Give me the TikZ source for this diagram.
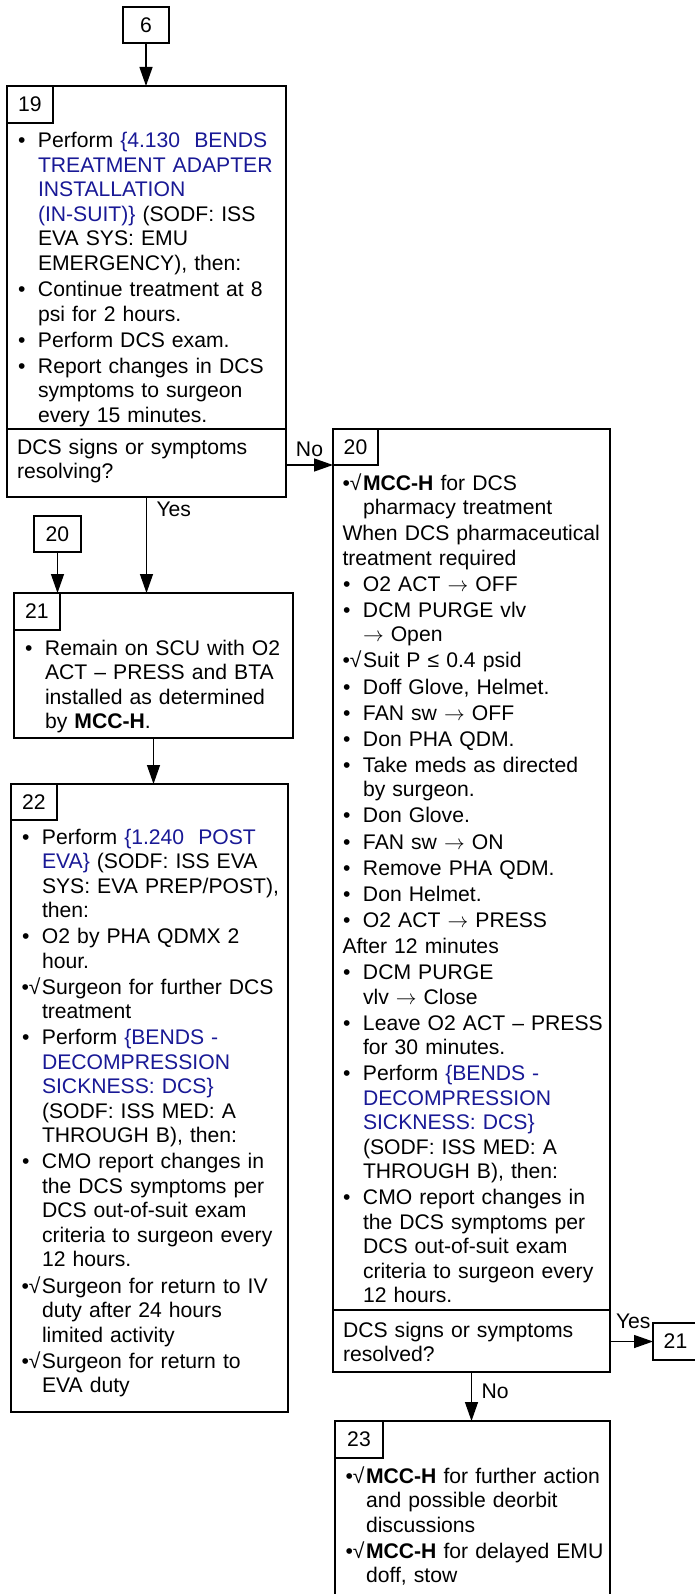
\documentclass[tikz,border=0pt]{standalone}
\usepackage{fontspec}
\setmainfont{Liberation Sans}
\usetikzlibrary{arrows.meta}
\definecolor{linkblue}{RGB}{25,25,150}
\newcommand{\mybul}{\makebox[20.5pt][l]{\hspace{0.5pt}•}}
\newcommand{\mychk}{\makebox[20.5pt][l]{•√}}
\newcommand{\myind}{\hspace*{20.5pt}}
\newcommand{\myblue}[1]{\textcolor{linkblue}{#1}}
\newcommand{\myarr}{$\rightarrow$}
\begin{document}
\begin{tikzpicture}[x=1pt,y=-1pt,
  mainbox/.style={draw, line width=2pt, anchor=north west, inner sep=0pt, outer sep=0pt},
  cellbox/.style={draw, line width=1.2pt, anchor=north west, inner sep=0pt, outer sep=0pt,
     font=\fontsize{21.15pt}{24.5pt}\selectfont},
  refbox/.style={draw, line width=1.3pt, anchor=north west, inner sep=0pt, outer sep=0pt,
     font=\fontsize{21.15pt}{24.5pt}\selectfont},
  txt/.style={anchor=base west, inner sep=0pt, outer sep=0pt, text width=280pt, align=left,
     font=\fontsize{21.15pt}{24.5pt}\selectfont},
  lbl/.style={anchor=base west, inner sep=0pt, outer sep=0pt,
     font=\fontsize{21.15pt}{24.5pt}\selectfont},
  conn/.style={line width=1.3pt, -{Triangle[length=19pt,width=13pt]}},
  divline/.style={line width=1.8pt}
]
\fill[white] (0,0) rectangle (695,1594);
\useasboundingbox (0,0) rectangle (695,1594);

% ---- boxes ----
\node[refbox, minimum width=46pt, minimum height=36pt] (n6) at (123,7) {6};

\node[mainbox, minimum width=279pt, minimum height=411pt] (b19) at (7,86) {};
\node[cellbox, minimum width=46pt, minimum height=37pt] (c19) at (b19.north west) {19};
\draw[divline] (b19.west |- 0,429) -- (b19.east |- 0,429);

\node[refbox, minimum width=47pt, minimum height=36pt] (n20b) at (34,516) {20};

\node[mainbox, minimum width=279pt, minimum height=145pt] (b21) at (14,593) {};
\node[cellbox, minimum width=46pt, minimum height=37pt] (c21) at (b21.north west) {21};

\node[mainbox, minimum width=277pt, minimum height=628pt] (b22) at (11,784) {};
\node[cellbox, minimum width=46pt, minimum height=36pt] (c22) at (b22.north west) {22};

\node[mainbox, minimum width=277pt, minimum height=943pt] (b20) at (333,429) {};
\node[cellbox, minimum width=45pt, minimum height=36pt] (c20) at (b20.north west) {20};
\draw[divline] (b20.west |- 0,1310) -- (b20.east |- 0,1310);

\node[refbox, minimum width=45pt, minimum height=37pt] (n21b) at (653,1323) {21};

\node[mainbox, minimum width=275pt, minimum height=179pt] (b23) at (335,1421) {};
\node[cellbox, minimum width=48pt, minimum height=37pt] (c23) at (b23.north west) {23};

% ---- texts ----
\node[txt] (t19) at (17.5,148) {%
\mybul Perform \myblue{\{4.130\ \ BENDS}\\
\myind\myblue{TREATMENT ADAPTER}\\
\myind\myblue{INSTALLATION}\\
\myind\myblue{(IN-SUIT)\}} (SODF: ISS\\
\myind EVA SYS: EMU\\
\myind EMERGENCY), then:\\[1.6pt]
\mybul Continue treatment at 8\\
\myind psi for 2 hours.\\[1.6pt]
\mybul Perform DCS exam.\\[1.6pt]
\mybul Report changes in DCS\\
\myind symptoms to surgeon\\
\myind every 15 minutes.};
\node[txt] (q19) at (17,454) {DCS signs or symptoms\\resolving?};

\node[txt] (t21) at (24.5,655) {%
\mybul Remain on SCU with O2\\
\myind ACT – PRESS and BTA\\
\myind installed as determined\\
\myind by \textbf{MCC-H}.};

\node[txt] (t22) at (21.5,844) {%
\mybul Perform \myblue{\{1.240\ \ POST}\\
\myind\myblue{EVA\}} (SODF: ISS EVA\\
\myind SYS: EVA PREP/POST),\\
\myind then:\\[1.6pt]
\mybul O2 by PHA QDMX 2\\
\myind hour.\\[1.6pt]
\mychk Surgeon for further DCS\\
\myind treatment\\[1.6pt]
\mybul Perform \myblue{\{BENDS -}\\
\myind\myblue{DECOMPRESSION}\\
\myind\myblue{SICKNESS: DCS\}}\\
\myind (SODF: ISS MED: A\\
\myind THROUGH B), then:\\[1.6pt]
\mybul CMO report changes in\\
\myind the DCS symptoms per\\
\myind DCS out-of-suit exam\\
\myind criteria to surgeon every\\
\myind 12 hours.\\[1.6pt]
\mychk Surgeon for return to IV\\
\myind duty after 24 hours\\
\myind limited activity\\[1.6pt]
\mychk Surgeon for return to\\
\myind EVA duty};

\node[txt] (t20) at (342.5,490) {%
\mychk\textbf{MCC-H} for DCS\\
\myind pharmacy treatment\\[1.6pt]
When DCS pharmaceutical\\
treatment required\\[1.6pt]
\mybul O2 ACT \myarr{} OFF\\[1.6pt]
\mybul DCM PURGE vlv\\
\myind\myarr{} Open\\[1.6pt]
\mychk Suit P ≤ 0.4 psid\\[1.6pt]
\mybul Doff Glove, Helmet.\\[1.6pt]
\mybul FAN sw \myarr{} OFF\\[1.6pt]
\mybul Don PHA QDM.\\[1.6pt]
\mybul Take meds as directed\\
\myind by surgeon.\\[1.6pt]
\mybul Don Glove.\\[1.6pt]
\mybul FAN sw \myarr{} ON\\[1.6pt]
\mybul Remove PHA QDM.\\[1.6pt]
\mybul Don Helmet.\\[1.6pt]
\mybul O2 ACT \myarr{} PRESS\\[1.6pt]
After 12 minutes\\[1.6pt]
\mybul DCM PURGE\\
\myind vlv \myarr{} Close\\[1.6pt]
\mybul Leave O2 ACT – PRESS\\
\myind for 30 minutes.\\[1.6pt]
\mybul Perform \myblue{\{BENDS -}\\
\myind\myblue{DECOMPRESSION}\\
\myind\myblue{SICKNESS: DCS\}}\\
\myind (SODF: ISS MED: A\\
\myind THROUGH B), then:\\[1.6pt]
\mybul CMO report changes in\\
\myind the DCS symptoms per\\
\myind DCS out-of-suit exam\\
\myind criteria to surgeon every\\
\myind 12 hours.};
\node[txt] (q20) at (343,1337) {DCS signs or symptoms\\resolved?};

\node[txt] (t23) at (345.5,1483) {%
\mychk\textbf{MCC-H} for further action\\
\myind and possible deorbit\\
\myind discussions\\[1.6pt]
\mychk\textbf{MCC-H} for delayed EMU\\
\myind doff, stow};

% ---- connectors ----
\draw[conn] (n6.south) -- (n6.south |- b19.north);
\draw[conn] (b19.south) -- (b19.south |- b21.north)
   node[lbl, pos=0, xshift=10pt, yshift=-19pt] {Yes};
\draw[conn] (c20.south west -| b19.east) -- (c20.south west)
   node[lbl, midway, anchor=base, yshift=9pt] {No};
\draw[conn] (n20b.south) -- (n20b.south |- b21.north);
\draw[conn] (b21.south) -- (b21.south |- b22.north);
\draw[conn] (b20.east |- n21b.west) -- (n21b.west)
   node[lbl, pos=0, xshift=6pt, yshift=13pt] {Yes};
\draw[conn] (b20.south) -- (b20.south |- b23.north)
   node[lbl, pos=0, xshift=10pt, yshift=-26pt] {No};
\end{tikzpicture}
\end{document}
